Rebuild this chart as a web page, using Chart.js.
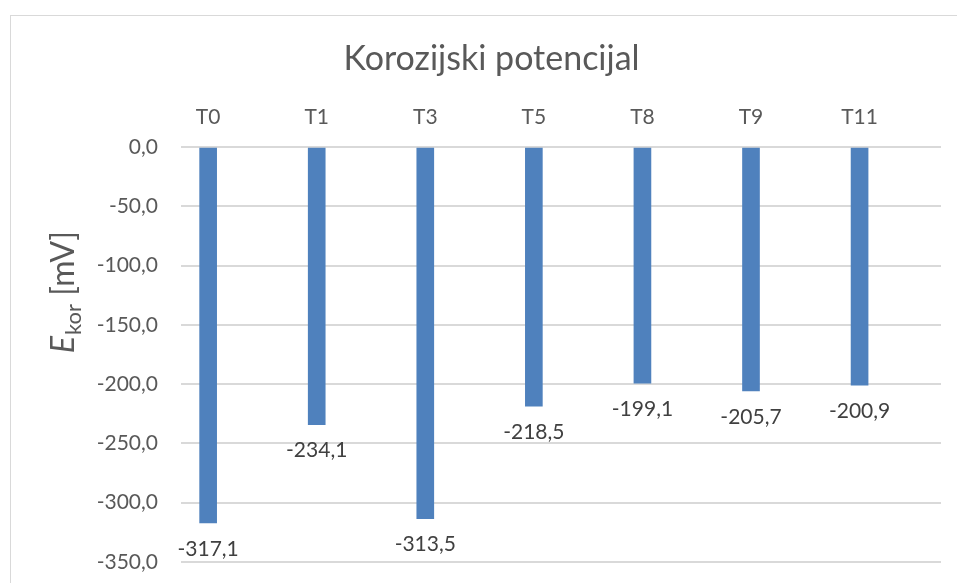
<!DOCTYPE html>
<html>
<head>
<meta charset="utf-8">
<script src="https://cdn.jsdelivr.net/npm/chart.js@4.4.1/dist/chart.umd.min.js"></script>
<style>
    html, body { margin: 0; padding: 0; background: #fff; }
    #wrap { width: 957px; height: 583px; }
</style>
</head>
<body>
<div id="wrap"><canvas id="korChart" width="957" height="583"></canvas></div>
<script>
    // Sample names and corrosion potential (mV)
    const samples = ['T0', 'T1', 'T3', 'T5', 'T8', 'T9', 'T11'];
    const eKor = [-317.1, -234.1, -313.5, -218.5, -199.1, -205.7, -200.9];
    const yTicks = [0, -50, -100, -150, -200, -250, -300, -350];

    const FONT = 'Lato, "Open Sans", sans-serif';
    const fmt = v => v.toFixed(1).replace('.', ',');

    // White page plus the light frame round the chart
    const framePlugin = {
        id: 'frame',
        beforeDraw(chart) {
            const ctx = chart.ctx;
            ctx.save();
            ctx.fillStyle = '#ffffff';
            ctx.fillRect(0, 0, chart.width, chart.height);
            ctx.strokeStyle = '#d9d9d9';
            ctx.lineWidth = 1;
            ctx.strokeRect(10.5, 15.5, chart.width + 20, chart.height + 20);
            ctx.restore();
        }
    };

    // Value labels under the end of each bar
    const valueLabels = {
        id: 'valueLabels',
        afterDatasetsDraw(chart) {
            const ctx = chart.ctx;
            const meta = chart.getDatasetMeta(0);
            ctx.save();
            ctx.font = '21px ' + FONT;
            ctx.fillStyle = '#404040';
            ctx.textAlign = 'center';
            ctx.textBaseline = 'middle';
            meta.data.forEach(function(bar, i) {
                ctx.fillText(fmt(eKor[i]), bar.x, bar.y + 26);
            });
            ctx.restore();
        }
    };

    // Rotated axis title: italic E with subscript "kor", then the unit
    const yTitle = {
        id: 'yTitle',
        afterDraw(chart) {
            const ctx = chart.ctx;
            const big = '32px ' + FONT;
            const bigIt = 'italic 32px ' + FONT;
            const small = '22px ' + FONT;
            ctx.save();
            ctx.font = bigIt; const wE = ctx.measureText('E').width;
            ctx.font = small; const wSub = ctx.measureText('kor').width;
            ctx.font = big; const wUnit = ctx.measureText(' [mV]').width;
            const total = wE + wSub + wUnit + 1;
            ctx.translate(74, 292);
            ctx.rotate(-Math.PI / 2);
            ctx.fillStyle = '#595959';
            ctx.textBaseline = 'alphabetic';
            ctx.textAlign = 'left';
            let x = -total / 2;
            ctx.font = bigIt; ctx.fillText('E', x, 0); x += wE + 1;
            ctx.font = small; ctx.fillText('kor', x, 7); x += wSub;
            ctx.font = big; ctx.fillText(' [mV]', x, 0);
            ctx.restore();
        }
    };

    const ctx = document.getElementById('korChart').getContext('2d');
    new Chart(ctx, {
        type: 'bar',
        data: {
            datasets: [{
                data: eKor.map((v, i) => ({ x: i, y: v })),
                backgroundColor: '#4f81bd',
                borderWidth: 0,
                barThickness: 17
            }]
        },
        options: {
            responsive: false,
            animation: false,
            layout: { padding: { left: 42, right: 16, top: 0, bottom: 21 } },
            plugins: {
                legend: { display: false },
                tooltip: { enabled: false },
                title: {
                    display: true,
                    text: 'Korozijski potencijal',
                    color: '#595959',
                    font: { family: FONT, size: 34, weight: 'normal' },
                    padding: { top: 39, bottom: 0 }
                }
            },
            scales: {
                x: {
                    type: 'linear',
                    position: 'top',
                    offset: false,
                    min: -0.25,
                    max: 6.75,
                    grid: { display: false },
                    border: { display: false },
                    afterBuildTicks(scale) {
                        scale.ticks = samples.map((_, i) => ({ value: i }));
                    },
                    afterFit(scale) {
                        scale.height = 147 - 39 - 34 * 1.2;
                        scale.paddingLeft = 0;
                        scale.paddingRight = 0;
                    },
                    ticks: {
                        color: '#595959',
                        font: { family: FONT, size: 21 },
                        padding: 9,
                        maxRotation: 0,
                        autoSkip: false,
                        callback: v => samples[v]
                    }
                },
                y: {
                    min: -350,
                    max: 0,
                    afterBuildTicks(scale) {
                        scale.ticks = yTicks.map(v => ({ value: v }));
                    },
                    afterFit(scale) {
                        scale.width = 181 - 42;
                        scale.paddingTop = 0;
                        scale.paddingBottom = 0;
                    },
                    grid: { color: '#d9d9d9', lineWidth: 2, drawTicks: false },
                    border: { display: false },
                    ticks: {
                        color: '#595959',
                        font: { family: FONT, size: 21 },
                        padding: 23,
                        callback: v => fmt(v)
                    }
                }
            }
        },
        plugins: [framePlugin, valueLabels, yTitle]
    });
</script>
</body>
</html>
